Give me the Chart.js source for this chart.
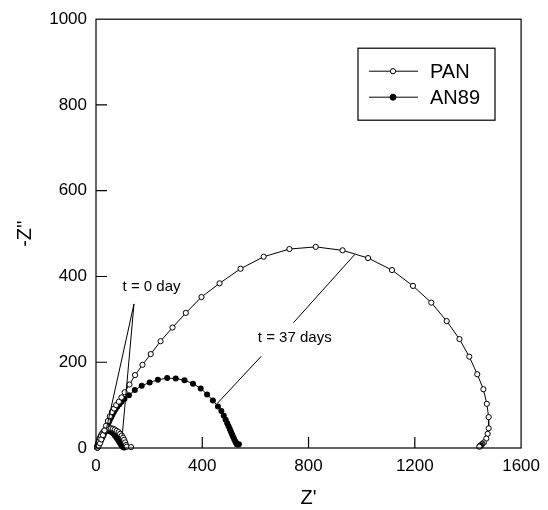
<!DOCTYPE html>
<html>
<head>
<meta charset="utf-8">
<script src="https://cdn.jsdelivr.net/npm/chart.js@4"></script>
<style>
  html,body{margin:0;padding:0;background:#fff;}
  #wrap{width:548px;height:510px;}
</style>
</head>
<body>
<div id="wrap"><canvas id="chart"></canvas></div>
<script>
// [Z', -Z''] pairs
const pan37 = [[6,1],[10,5],[15,11],[20,20],[26,30],[32,41],[38,52],[45,63],[52,74],[60,84],[68,92],[76,100],[86,108],[96,118],[108,130],[126,148],[147,170],[175,194],[206,219],[243,249],[288,281],[338,315],[397,352],[465,384],[544,418],[631,446],[728,464],[827,469],[928,461],[1024,443],[1114,415],[1193,378],[1262,339],[1320,296],[1368,254],[1405,213],[1435,172],[1458,137],[1471,103],[1478,72],[1478,46],[1474,33],[1469,22],[1460,13],[1455,10],[1452,8],[1449,6],[1447,5],[1445,5],[1444,4],[1443,3]];
const an89_37 = [[5,1],[8,4],[11,8],[14,12],[17,16],[20,20],[24,25],[28,30],[32,36],[36,42],[40,48],[44,54],[48,60],[52,66],[57,72],[62,78],[67,84],[73,90],[80,96],[88,102],[96,108],[107,114],[124,123],[146,135],[172,145],[202,153],[233,159],[268,163],[300,162],[333,158],[365,150],[394,139],[418,125],[440,111],[459,97],[472,86],[481,75],[488,66],[494,58],[499,51],[504,44],[508,38],[512,32],[516,26],[520,21],[524,16],[527,12],[530,9],[534,8],[538,9]];
const pan0 = [[5,1],[8,8],[11,15],[15,22],[19,28],[24,34],[30,39],[36,43],[43,45],[50,46],[57,46],[64,45],[71,43],[78,40],[85,37],[91,33],[97,29],[102,24],[106,19],[110,13],[113,7],[116,3],[132,2]];
const an89_0 = [[4,1],[5,5],[7,9],[9,13],[11,17],[13,21],[16,25],[19,29],[23,33],[27,36],[31,38],[36,40],[41,41],[46,41],[51,40],[56,38],[61,36],[66,33],[71,29],[76,25],[81,21],[86,16],[91,11],[95,7],[99,4],[103,2],[106,1]];

const xTicks = [0,400,800,1200,1600];
const yTicks = [0,200,400,600,800,1000];
const seriesNames = ["PAN","AN89"];

// callout texts and leader lines, in data units
const label0 = { text:"t = 0 day", at:[209,375] };
const lines0 = [[[143,336],[40,47]], [[143,336],[99,31]]];
const label37 = { text:"t = 37 days", at:[748,256] };
const lines37 = [[[743,292],[975,452]], [[622,214],[455,103]]];

const FONT = "'Liberation Sans', Arial, Helvetica, sans-serif";
const toXY = arr => arr.map(p=>({x:p[0], y:p[1]}));

const openPt = { pointRadius:2.6, pointBackgroundColor:"#fff", pointBorderColor:"#000", pointBorderWidth:1 };
const fillPt = { pointRadius:3, pointBackgroundColor:"#000", pointBorderColor:"#000", pointBorderWidth:0 };
const lineOpt = { showLine:true, borderColor:"#000", borderWidth:1, tension:0, clip:6 };

const frame = {
  id: "frame",
  afterDatasetsDraw(chart){
    const {ctx, chartArea:a, scales:{x, y}} = chart;
    const px = v => x.getPixelForValue(v), py = v => y.getPixelForValue(v);
    ctx.save();
    ctx.strokeStyle = "#000";
    ctx.lineWidth = 1.2;
    ctx.strokeRect(a.left, a.top, a.right-a.left, a.bottom-a.top);

    // ticks point inward
    ctx.beginPath();
    yTicks.slice(1,-1).forEach(v=>{ ctx.moveTo(a.left, py(v)); ctx.lineTo(a.left+11, py(v)); });
    xTicks.slice(1,-1).forEach(v=>{ ctx.moveTo(px(v), a.bottom); ctx.lineTo(px(v), a.bottom-11); });
    ctx.stroke();

    // callouts
    ctx.lineWidth = 1;
    ctx.beginPath();
    [...lines0, ...lines37].forEach(([p,q])=>{
      ctx.moveTo(px(p[0]), py(p[1]));
      ctx.lineTo(px(q[0]), py(q[1]));
    });
    ctx.stroke();
    ctx.fillStyle = "#000";
    ctx.font = "15px " + FONT;
    ctx.textAlign = "center";
    ctx.textBaseline = "middle";
    [label0, label37].forEach(l=> ctx.fillText(l.text, px(l.at[0]), py(l.at[1])));

    // legend box
    const bx = a.left + 262, by = a.top + 29, bw = 137, bh = 72;
    ctx.fillStyle = "#fff";
    ctx.fillRect(bx, by, bw, bh);
    ctx.lineWidth = 1.2;
    ctx.strokeRect(bx, by, bw, bh);
    const rows = [by + 23, by + 49];
    ctx.font = "20px " + FONT;
    ctx.textAlign = "left";
    seriesNames.forEach((name, i)=>{
      const ry = rows[i];
      ctx.lineWidth = 1;
      ctx.beginPath(); ctx.moveTo(bx+11, ry); ctx.lineTo(bx+60, ry); ctx.stroke();
      ctx.beginPath(); ctx.arc(bx+35, ry, i===0 ? 2.6 : 3, 0, Math.PI*2);
      ctx.fillStyle = i===0 ? "#fff" : "#000";
      ctx.fill(); ctx.stroke();
      ctx.fillStyle = "#000";
      ctx.fillText(name, bx+72, ry+1);
    });
    ctx.restore();
  }
};

new Chart(document.getElementById("chart"), {
  type: "scatter",
  data: {
    datasets: [
      { label:"PAN", data:toXY(pan37), ...lineOpt, ...openPt },
      { label:"PAN t0", data:toXY(pan0), ...lineOpt, ...openPt },
      { label:"AN89", data:toXY(an89_37), ...lineOpt, ...fillPt },
      { label:"AN89 t0", data:toXY(an89_0), ...lineOpt, ...fillPt }
    ]
  },
  options: {
    responsive:true, maintainAspectRatio:false, animation:false, events:[],
    layout:{ padding:{ top:19, right:21, left:0, bottom:0 } },
    plugins:{ legend:{display:false}, tooltip:{enabled:false} },
    scales:{
      x:{
        type:"linear", min:0, max:1600,
        afterFit: s => { s.height = 62; },
        afterBuildTicks: s => { s.ticks = xTicks.map(v=>({value:v})); },
        grid:{ display:false, drawTicks:false },
        border:{ display:false },
        ticks:{ color:"#000", padding:8, maxRotation:0, callback: v => String(v), font:{ family:FONT, size:17 } },
        title:{ display:true, text:"Z'", color:"#000", padding:{top:0,bottom:0}, font:{ family:FONT, size:20 } }
      },
      y:{
        type:"linear", min:0, max:1000,
        afterFit: s => { s.width = 96; },
        afterBuildTicks: s => { s.ticks = yTicks.map(v=>({value:v})); },
        grid:{ display:false, drawTicks:false },
        border:{ display:false },
        ticks:{ color:"#000", padding:9, callback: v => String(v), font:{ family:FONT, size:17 } },
        title:{ display:true, text:"-Z''", color:"#000", padding:{top:13,bottom:0}, font:{ family:FONT, size:20 } }
      }
    }
  },
  plugins:[frame]
});
</script>
</body>
</html>
